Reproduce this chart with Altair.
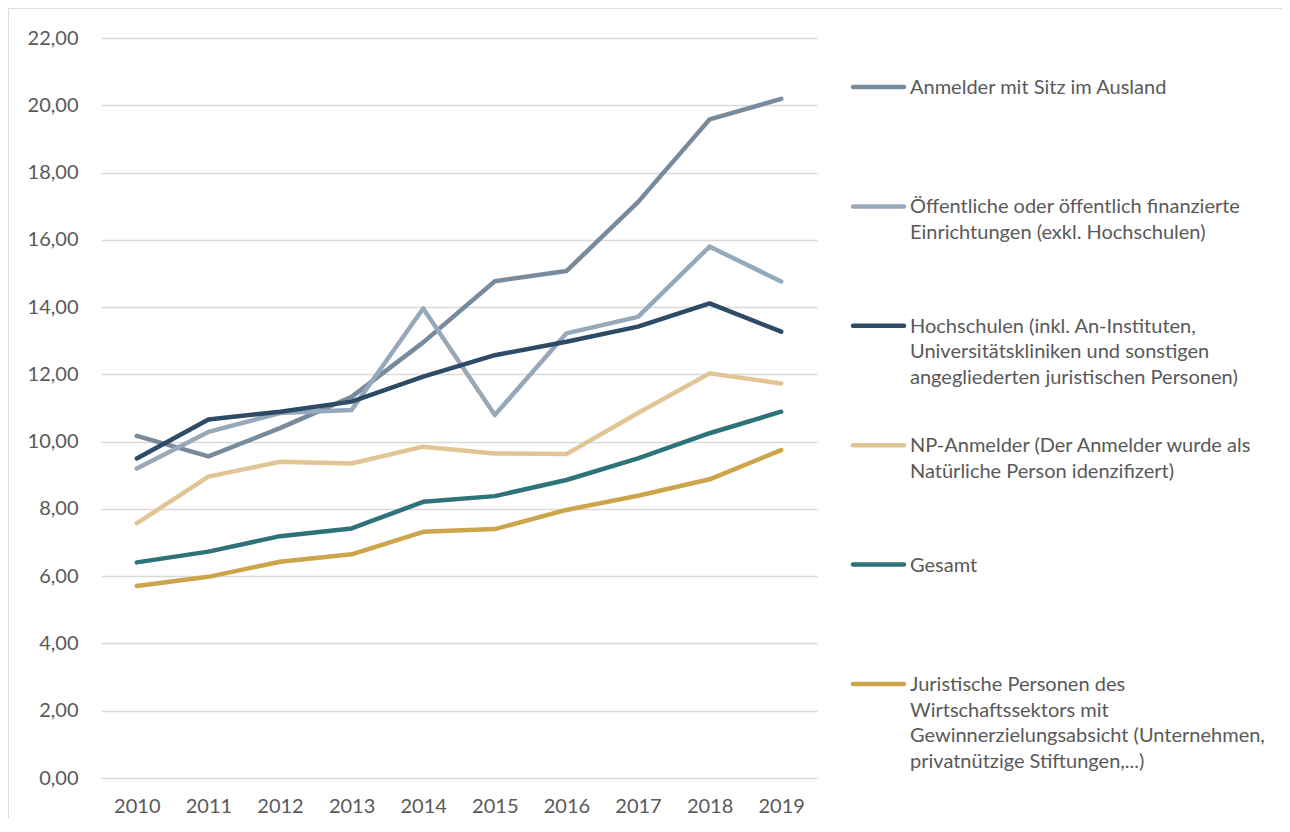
import altair as alt
import pandas as pd

years = ["2010", "2011", "2012", "2013", "2014", "2015", "2016", "2017", "2018", "2019"]

series_names = [
    "Anmelder mit Sitz im Ausland",
    "Öffentliche oder öffentlich finanzierte Einrichtungen (exkl. Hochschulen)",
    "Hochschulen (inkl. An-Instituten, Universitätskliniken und sonstigen angegliederten juristischen Personen)",
    "NP-Anmelder (Der Anmelder wurde als Natürliche Person idenzifizert)",
    "Gesamt",
    "Juristische Personen des Wirtschaftssektors mit Gewinnerzielungsabsicht (Unternehmen, privatnützige Stiftungen,...)",
]

legend_labels = [
    "Anmelder mit Sitz im Ausland",
    "Öffentliche oder öffentlich finanzierte\nEinrichtungen (exkl. Hochschulen)",
    "Hochschulen (inkl. An-Instituten,\nUniversitätskliniken und sonstigen\nangegliederten juristischen Personen)",
    "NP-Anmelder (Der Anmelder wurde als\nNatürliche Person idenzifizert)",
    "Gesamt",
    "Juristische Personen des\nWirtschaftssektors mit\nGewinnerzielungsabsicht (Unternehmen,\nprivatnützige Stiftungen,...)",
]

colors = ["#778b9d", "#96a9ba", "#2d4a66", "#e1c595", "#2e727a", "#cca449"]

ausland = [10.17, 9.56, 10.40, 11.33, 12.95, 14.77, 15.07, 17.12, 19.58, 20.19]
oeffentlich = [9.20, 10.29, 10.85, 10.94, 13.96, 10.79, 13.22, 13.71, 15.80, 14.76]
hochschulen = [9.50, 10.66, 10.89, 11.19, 11.93, 12.57, 12.97, 13.42, 14.11, 13.27]
np_anmelder = [7.57, 8.96, 9.40, 9.35, 9.85, 9.65, 9.63, 10.85, 12.03, 11.73]
gesamt = [6.41, 6.73, 7.19, 7.42, 8.21, 8.38, 8.86, 9.50, 10.25, 10.89]
juristisch = [5.71, 5.98, 6.43, 6.65, 7.32, 7.40, 7.97, 8.39, 8.88, 9.75]

y_ticks = [0, 2, 4, 6, 8, 10, 12, 14, 16, 18, 20, 22]

all_values = [ausland, oeffentlich, hochschulen, np_anmelder, gesamt, juristisch]

rows = []
for name, vals in zip(series_names, all_values):
    for yr, v in zip(years, vals):
        rows.append({"series": name, "year": yr, "value": v})
df = pd.DataFrame(rows)

leg = pd.DataFrame({
    "series": series_names,
    "label": legend_labels,
    "idx": list(range(len(series_names))),
})

FONT = "Lato"
TXT = "#595959"
FS = 20
W, H = 1274, 810

color_scale = alt.Scale(domain=series_names, range=colors)

lines = alt.Chart(df).mark_line(
    strokeWidth=4.5, strokeCap="round", strokeJoin="round"
).encode(
    x=alt.X(
        "year:O",
        sort=years,
        scale=alt.Scale(type="point", padding=0.5, range=[93, 809]),
        axis=alt.Axis(
            title=None, domain=False, ticks=False, tickSize=0, grid=False,
            labelAngle=0, labelPadding=18, offset=-40,
            labelFont=FONT, labelFontSize=FS, labelColor=TXT,
        ),
    ),
    y=alt.Y(
        "value:Q",
        scale=alt.Scale(domain=[0, 22], range=[770, 30], nice=False, zero=True),
        axis=alt.Axis(
            title=None, values=y_ticks,
            labelExpr="replace(format(datum.value, '.2f'), '.', ',')",
            domain=False, ticks=False, tickSize=0, grid=True,
            gridColor="#d9d9d9", gridWidth=1.3,
            labelPadding=23, offset=-93,
            labelFont=FONT, labelFontSize=FS, labelColor=TXT,
        ),
    ),
    color=alt.Color("series:N", scale=color_scale, legend=None),
    order=alt.Order("year:O"),
)

leg_y = alt.Y("idx:Q", scale=alt.Scale(domain=[0, 5], range=[79, 676], nice=False, zero=False), axis=None)

leg_rules = alt.Chart(leg).mark_rule(strokeWidth=4.5, strokeCap="round").encode(
    x=alt.value(845),
    x2=alt.value(896),
    y=leg_y,
    color=alt.Color("series:N", scale=color_scale, legend=None),
)

leg_text = alt.Chart(leg).mark_text(
    align="left", baseline="alphabetic", dy=7, lineBreak="\n", lineHeight=25.5,
    font=FONT, fontSize=FS, color=TXT,
).encode(
    x=alt.value(902),
    y=leg_y,
    text="label:N",
)

legend_layer = alt.layer(leg_rules, leg_text)

chart = alt.layer(lines, legend_layer).resolve_scale(y="independent").properties(
    width=W, height=H, padding=0,
).configure_view(
    stroke="#d9d9d9", strokeWidth=1.2,
).configure(background="white")

chart.save("out.html", embed_options={"renderer": "svg", "actions": False})
